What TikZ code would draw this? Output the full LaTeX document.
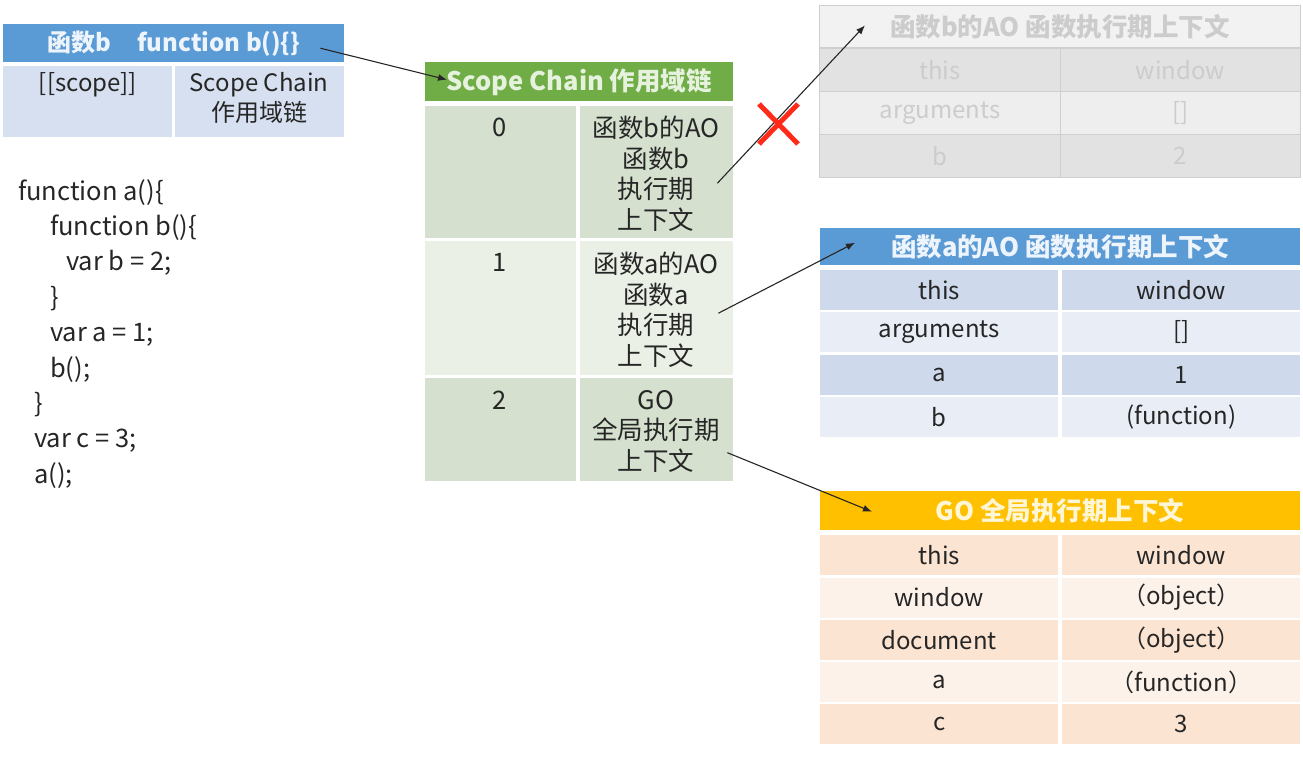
\documentclass[tikz,border=0pt]{standalone}
\usepackage{fontspec}
\setmainfont{Noto Sans CJK SC}
\usetikzlibrary{arrows.meta,calc}

\definecolor{ink}{HTML}{262626}
\definecolor{hdrblue}{HTML}{5B9BD5}
\definecolor{hdrtext}{HTML}{EEF4FC}
\definecolor{fnrow}{HTML}{D7E0F0}
\definecolor{chainhead}{HTML}{70AD47}
\definecolor{chaintext}{HTML}{E6F2DE}
\definecolor{chaindark}{HTML}{D5E0CE}
\definecolor{chainlight}{HTML}{EAF0E6}
\definecolor{aodark}{HTML}{CFD9EC}
\definecolor{aolight}{HTML}{E9EDF5}
\definecolor{gohead}{HTML}{FFC000}
\definecolor{gotext}{HTML}{FFF6D6}
\definecolor{godark}{HTML}{FBE4D2}
\definecolor{golight}{HTML}{FDF2EA}
\definecolor{fadehead}{HTML}{F2F2F2}
\definecolor{fadedark}{HTML}{E2E2E2}
\definecolor{fadelight}{HTML}{EEEEEE}
\definecolor{fadeline}{HTML}{CFCFCF}
\definecolor{fadetext}{HTML}{CCCCCC}
\definecolor{crossred}{HTML}{FF2A1A}

\begin{document}
\begin{tikzpicture}[x=1pt,y=-1pt,
    cell/.style={fill=#1, inner sep=0pt, anchor=north west},
    txt/.style={inner sep=0pt, text=ink, align=center,
                font=\fontsize{24}{30.5}\selectfont},
    ctx/.style={txt, anchor=north, font=\fontsize{25.5}{30.5}\selectfont},
    head/.style={txt, font=\fontsize{25.5}{30}\selectfont\bfseries},
    code/.style={inner sep=0pt, anchor=base west, text=ink,
                 font=\fontsize{25.5}{30}\selectfont},
    faded/.style={draw=fadeline, line width=.8pt, text=fadetext},
    link/.style={draw=ink, line width=1.1pt, -{Latex[length=9pt,width=7pt]}}]
\useasboundingbox[fill=white] (0,0) rectangle (1303,757);

% function b and its [[scope]]
\node[cell=hdrblue, head, text=hdrtext, font=\fontsize{24}{30}\selectfont\bfseries,
      minimum width=341, minimum height=38] (fnHead) at (3,24)
    {函数b\hspace{1.1em}function b()\{\}};
\node[cell=fnrow, minimum width=169, minimum height=71] (fnScope) at (3,66) {};
\node[cell=fnrow, minimum width=169, minimum height=71] (fnChain) at (175,66) {};
\node[txt, anchor=north] (scopeLbl) at (88,72) {[[scope]]};
\node[txt, anchor=north] (chainLbl) at (259,72) {Scope Chain\\作用域链};

% source code
\foreach \t/\dx [count=\i from 0] in {
    {function a()\{}/18, {function b()\{}/50, {var b = 2;}/66, {\}}/50,
    {var a = 1;}/50, {b();}/50, {\}}/34, {var c = 3;}/34, {a();}/34}
  \node[code] (code\i) at (\dx,{200+35.4*\i}) {\t};

% scope chain
\node[cell=chainhead, head, text=chaintext, minimum width=308, minimum height=39] (chHead) at (425,62)
    {Scope Chain 作用域链};
\node[cell=chaindark, minimum width=151, minimum height=132] (ch0k) at (425,106) {};
\node[cell=chaindark, minimum width=153, minimum height=132] (ch0v) at (580,106) {};
\node[cell=chainlight, minimum width=151, minimum height=134] (ch1k) at (425,241) {};
\node[cell=chainlight, minimum width=153, minimum height=134] (ch1v) at (580,241) {};
\node[cell=chaindark, minimum width=151, minimum height=103] (ch2k) at (425,378) {};
\node[cell=chaindark, minimum width=153, minimum height=103] (ch2v) at (580,378) {};
\node[ctx] (idx0) at (500,118) {0};
\node[ctx] (idx1) at (500,253) {1};
\node[ctx] (idx2) at (500,391) {2};
\node[ctx] (ctx0) at (656,116) {函数b的AO\\函数b\\执行期\\上下文};
\node[ctx] (ctx1) at (656,252) {函数a的AO\\函数a\\执行期\\上下文};
\node[ctx] (ctx2) at (656,390) {GO\\全局执行期\\上下文};

% AO of b (gone)
\node[cell=fadehead, faded, txt, text=fadetext, font=\fontsize{25.5}{30}\selectfont\bfseries,
      minimum width=481, minimum height=42] (aoBHead) at (819,5) {函数b的AO 函数执行期上下文};
\foreach \k/\v/\c [count=\i from 0] in {this/window/fadedark, arguments/{[]}/fadelight, b/2/fadedark} {
  \node[cell=\c, faded, txt, text=fadetext, minimum width=241, minimum height=43] (aoBk\i) at (819,{48+43*\i}) {\k};
  \node[cell=\c, faded, txt, text=fadetext, minimum width=240, minimum height=43] (aoBv\i) at (1060,{48+43*\i}) {\v};
}

% AO of a
\node[cell=hdrblue, head, text=hdrtext, minimum width=480, minimum height=37] (aoAHead) at (820,228)
    {函数a的AO 函数执行期上下文};
\foreach \k/\v/\c [count=\i from 0] in {this/window/aodark, arguments/{[]}/aolight, a/1/aodark, b/(function)/aolight} {
  \node[cell=\c, txt, minimum width=238, minimum height=40] (aoAk\i) at (820,{270+42.2*\i}) {\k};
  \node[cell=\c, txt, minimum width=238, minimum height=40] (aoAv\i) at (1062,{270+42.2*\i}) {\v};
}

% GO
\node[cell=gohead, head, text=gotext, minimum width=480, minimum height=39] (goHead) at (820,491)
    {GO 全局执行期上下文};
\foreach \k/\v/\c [count=\i from 0] in {this/window/godark, window/（object）/golight,
    document/（object）/godark, a/（function）/golight, c/3/godark} {
  \node[cell=\c, txt, minimum width=238, minimum height=40] (gok\i) at (820,{535+42.3*\i}) {\k};
  \node[cell=\c, txt, minimum width=238, minimum height=40] (gov\i) at (1062,{535+42.3*\i}) {\v};
}

% links
\coordinate (fromFn) at ($(fnHead.east)+(-24,5)$);
\coordinate (toChain) at ($(chHead.west)+(22,-2)$);
\coordinate (from0) at ($(ch0v.east)+(-16,11)$);
\coordinate (toAoB) at ($(aoBHead.west)+(46,-1)$);
\coordinate (from1) at ($(ch1v.east)+(-15,5)$);
\coordinate (toAoA) at ($(aoAHead.west)+(35,-4)$);
\coordinate (from2) at ($(ch2v.east)+(-6,23)$);
\coordinate (toGo) at ($(goHead.west)+(52,1)$);
\draw[link] (fromFn) -- (toChain);
\draw[link] (from0) -- (toAoB);
\draw[link] (from1) -- (toAoA);
\draw[link] (from2) -- (toGo);

% the b context is gone
\draw[crossred, line width=5pt] (759,104) -- (798,144) (798,104) -- (759,144);
\end{tikzpicture}
\end{document}
